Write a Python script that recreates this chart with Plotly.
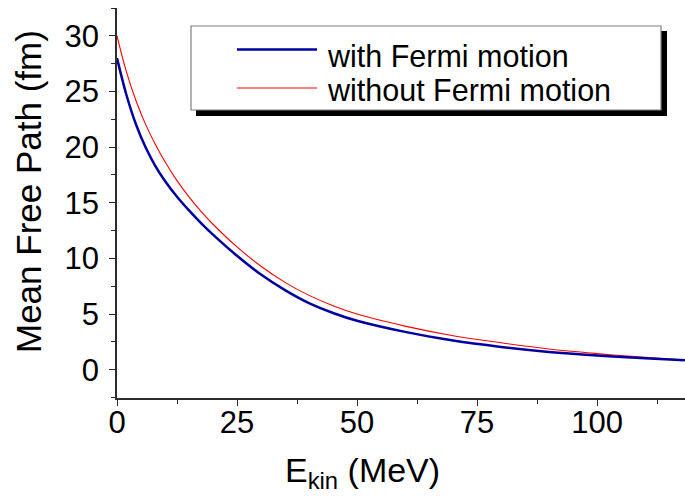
import plotly.graph_objects as go

# ---- data ----
e_kin = [0, 2, 4, 6, 8, 10, 12.5, 15, 17.5, 20, 25, 30, 35, 40, 45, 50, 60, 70, 80, 90, 100, 110, 118.3]
mfp_with_fermi = [28.0, 24.64, 21.99, 19.94, 18.3, 16.96, 15.54, 14.31, 13.18, 12.14, 10.24, 8.55, 7.15,
                  5.98, 5.1, 4.4, 3.4, 2.62, 2.05, 1.6, 1.28, 1.03, 0.85]
mfp_without_fermi = [30.0, 26.71, 24.12, 22.0, 20.23, 18.68, 16.99, 15.53, 14.23, 13.07, 11.03, 9.3, 7.85,
                     6.68, 5.75, 5.0, 3.92, 3.06, 2.42, 1.86, 1.45, 1.11, 0.87]
series_names = ["with Fermi motion", "without Fermi motion"]
x_ticks = [0, 25, 50, 75, 100]
y_ticks = [0, 5, 10, 15, 20, 25, 30]

W, H = 685, 496
L, R, T, B = 117, 0, 8, 98
FONT = "Liberation Sans, Arial, sans-serif"
BLUE = "#0000A0"
RED = "#FF0000"
AX = "#2b2b2b"

def px(x):
    return (x - L) / (W - L - R)

def py(y):
    return (H - B - y) / (H - T - B)

fig = go.Figure()
fig.add_trace(go.Scatter(x=e_kin, y=mfp_without_fermi, mode="lines", name=series_names[1],
                         line=dict(color=RED, width=1.1, shape="spline", smoothing=1.0),
                         showlegend=False))
fig.add_trace(go.Scatter(x=e_kin, y=mfp_with_fermi, mode="lines", name=series_names[0],
                         line=dict(color=BLUE, width=2.5, shape="spline", smoothing=1.0),
                         showlegend=False))

axis_common = dict(showgrid=False, zeroline=False, showline=True, linecolor=AX, linewidth=1.6,
                   ticks="outside", ticklen=6, tickwidth=1.4, tickcolor=AX, mirror=False,
                   tickfont=dict(family=FONT, size=31, color="black"))

fig.update_xaxes(range=[0, 118.33], tickvals=x_ticks, ticktext=[str(v) for v in x_ticks],
                 minor=dict(dtick=12.5, tick0=0, ticks="outside", ticklen=4, tickwidth=1.2, tickcolor=AX),
                 ticklabelstandoff=-10, **axis_common)
fig.update_yaxes(range=[-2.54, 32.5], tickvals=y_ticks, ticktext=[str(v) for v in y_ticks],
                 minor=dict(dtick=2.5, tick0=0, ticks="outside", ticklen=4, tickwidth=1.2, tickcolor=AX),
                 ticklabelstandoff=4, **axis_common)

shapes = [
    # legend shadow and box
    dict(type="rect", xref="paper", yref="paper", x0=px(196), x1=px(667), y0=py(31), y1=py(116),
         fillcolor="black", line=dict(width=0), layer="above"),
    dict(type="rect", xref="paper", yref="paper", x0=px(191), x1=px(661), y0=py(26), y1=py(110),
         fillcolor="white", line=dict(color="#7f7f7f", width=1.2), layer="above"),
    dict(type="line", xref="paper", yref="paper", x0=px(237), x1=px(317), y0=py(49.5), y1=py(49.5),
         line=dict(color=BLUE, width=2.5), layer="above"),
    dict(type="line", xref="paper", yref="paper", x0=px(237), x1=px(317), y0=py(88), y1=py(88),
         line=dict(color=RED, width=1.1), layer="above"),
]

annotations = [
    dict(text=series_names[0], xref="paper", yref="paper", x=px(325), y=py(56), xanchor="left",
         yanchor="middle", showarrow=False, font=dict(family=FONT, size=30.5, color="black")),
    dict(text=series_names[1], xref="paper", yref="paper", x=px(325), y=py(90), xanchor="left",
         yanchor="middle", showarrow=False, font=dict(family=FONT, size=30.5, color="black")),
    dict(text="E<sub>kin</sub> (MeV)", xref="paper", yref="paper", x=px(362), y=py(472),
         xanchor="center", yanchor="middle", showarrow=False,
         font=dict(family=FONT, size=34, color="black")),
    dict(text="Mean Free Path (fm)", xref="paper", yref="paper", x=px(28), y=py(192),
         xanchor="center", yanchor="middle", textangle=-90, showarrow=False,
         font=dict(family=FONT, size=35, color="black")),
]

fig.update_layout(width=W, height=H, margin=dict(l=L, r=R, t=T, b=B, pad=0),
                  paper_bgcolor="white", plot_bgcolor="white",
                  shapes=shapes, annotations=annotations, showlegend=False)

fig.write_html("out.html", config={"displayModeBar": False})
